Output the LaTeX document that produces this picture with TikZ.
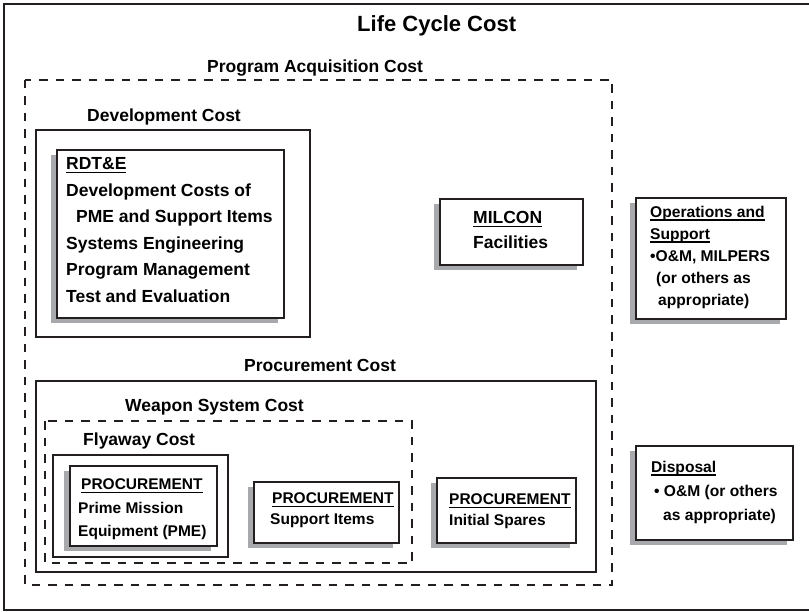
\documentclass[tikz,border=0pt]{standalone}
\usepackage{fontspec}
\setmainfont{Liberation Sans}
\usetikzlibrary{shadows}
\definecolor{ink}{RGB}{35,31,32}
\definecolor{shadowgray}{RGB}{167,169,172}
\newcommand{\undl}[1]{\setbox0\hbox{#1}\rlap{\rule[-3.6pt]{\wd0}{1.4pt}}\box0}

\begin{document}
\begin{tikzpicture}[x=1pt,y=-1pt,
    frame/.style={draw=ink,line width=2pt},
    dashframe/.style={draw=ink,line width=1.8pt,dash pattern=on 8.5pt off 8pt},
    costbox/.style={draw=ink,line width=2pt,fill=white,anchor=north west,inner sep=0,
      drop shadow={shadow xshift=-6.5pt,shadow yshift=-5pt,fill=shadowgray,opacity=1}},
    caption/.style={anchor=base west,inner sep=0,font=\captionfontsize},
    boxtext/.style={anchor=north west,inner sep=0,align=left}]
    \providecommand{\titlefontsize}{\fontsize{22}{26}\selectfont\bfseries}
    \providecommand{\captionfontsize}{\fontsize{17.5}{21}\selectfont\bfseries}
    \providecommand{\textfontsize}{\fontsize{17.5}{26.6}\selectfont\bfseries}
    \providecommand{\smallfontsize}{\fontsize{15.6}{22}\selectfont\bfseries}
    \useasboundingbox (0,0) rectangle (809,612);
    % outer frame and title
    \draw[frame,line width=2.8pt] (4,4) rectangle (812,610);
    \node[caption,font=\titlefontsize] (lcc) at (357,32) {Life Cycle Cost};
    % program acquisition
    \draw[dashframe] (25,80) rectangle (612,585);
    \node[caption] (pac) at (207,73) {Program Acquisition Cost};
    \draw[frame] (36,130) rectangle (310,337);
    \node[caption] (devcost) at (87,122) {Development Cost};
    \node[costbox,minimum width=227pt,minimum height=168pt] (rdte) at (56,149) {};
    \node[boxtext,font=\textfontsize] (rdtetext) at (66,157.2)
      {\undl{RDT\&E}\\
       Development Costs of\\
       \hspace*{10pt}PME and Support Items\\
       Systems Engineering\\
       Program Management\\
       Test and Evaluation};
    \node[costbox,minimum width=143pt,minimum height=66pt] (milcon) at (439,198) {};
    \node[boxtext,font=\fontsize{17.5}{25}\selectfont\bfseries] (milcontext) at (473,211.2)
      {\undl{MILCON}\\ Facilities};
    % procurement
    \draw[frame] (36,381) rectangle (596,572);
    \node[caption] (proccost) at (244,372) {Procurement Cost};
    \draw[dashframe] (45,421) rectangle (412,563);
    \node[caption] (wsc) at (125,412) {Weapon System Cost};
    \draw[frame,line width=2.8pt] (53,455) rectangle (228,557);
    \node[caption] (flyaway) at (83,445) {Flyaway Cost};
    \node[costbox,minimum width=147pt,minimum height=80pt] (pme) at (69,465) {};
    \node[boxtext,font=\fontsize{15.5}{23.5}\selectfont\bfseries] (pmetext) at (78,478.7)
      {\hspace*{3pt}\undl{PROCUREMENT}\\ Prime Mission\\ Equipment (PME)};
    \node[costbox,minimum width=145pt,minimum height=61pt] (support) at (253,481) {};
    \node[boxtext,font=\fontsize{15.5}{21}\selectfont\bfseries] (supporttext) at (270,492.7)
      {\hspace*{2pt}\undl{PROCUREMENT}\\ Support Items};
    \node[costbox,minimum width=139pt,minimum height=65pt] (spares) at (436,477) {};
    \node[boxtext,font=\fontsize{15.5}{21}\selectfont\bfseries] (sparestext) at (449,493.7)
      {\undl{PROCUREMENT}\\ Initial Spares};
    % outside program acquisition
    \node[costbox,minimum width=150pt,minimum height=121pt] (ops) at (635,197) {};
    \node[boxtext,font=\smallfontsize] (opstext) at (650,205.5)
      {\undl{Operations and}\\
       \undl{Support}\\
       \textbullet O\&M, MILPERS\\
       \hspace*{6pt}(or others as\\
       \hspace*{8pt}appropriate)};
    \node[costbox,minimum width=157pt,minimum height=94pt] (disposal) at (635,445) {};
    \node[boxtext,font=\fontsize{15.6}{24}\selectfont\bfseries] (disposaltext) at (651,460.5)
      {\undl{Disposal}\\
       \hspace*{3pt}\textbullet\ O\&M (or others\\
       \hspace*{12pt}as appropriate)};
\end{tikzpicture}
\end{document}
